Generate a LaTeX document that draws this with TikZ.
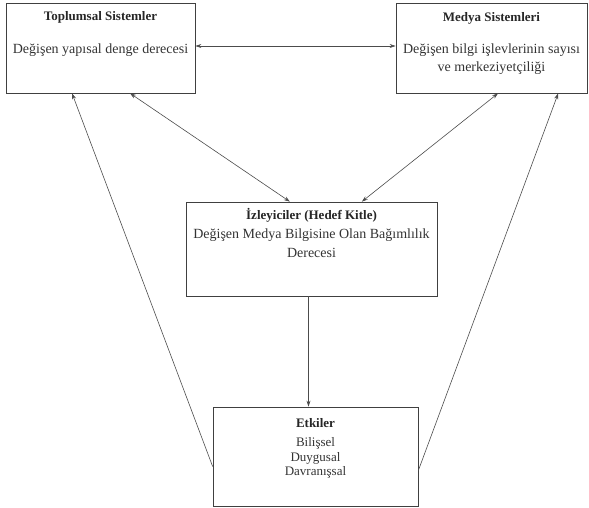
\documentclass[tikz,border=0pt]{standalone}
\usepackage{fontspec}
\setmainfont{Liberation Serif}
\usetikzlibrary{arrows.meta,calc}
\begin{document}
\begin{tikzpicture}[x=1pt,y=-1pt,
  box/.style={draw=black!75,line width=0.7pt,rectangle,inner sep=0pt},
  ttl/.style={font=\fontsize{13}{15}\selectfont\bfseries,text=black!85,inner sep=0pt},
  txt/.style={font=\fontsize{14}{16}\selectfont,text=black!80,inner sep=0pt},
  lst/.style={font=\fontsize{13}{15}\selectfont,text=black!80,inner sep=0pt},
  conn/.style={draw=black!70,line width=0.6pt},
  tip/.style={-{Stealth[length=6pt,width=4pt]}},
  dtip/.style={{Stealth[length=6pt,width=4pt]}-{Stealth[length=6pt,width=4pt]}}]
\useasboundingbox (0,0) rectangle (589,507);
% boxes
\node[box,minimum width=189pt,minimum height=90pt] (T) at (100.5,48) {};
\node[box,minimum width=191pt,minimum height=90pt] (M) at (491.5,48) {};
\node[box,minimum width=251pt,minimum height=94pt] (I) at (311.5,249) {};
\node[box,minimum width=205pt,minimum height=99pt] (E) at (315.5,456.5) {};
% texts
\node[ttl] (t1) at (100.5,17) {Toplumsal Sistemler};
\node[txt] (t2) at (100.5,50) {Değişen yapısal denge derecesi};
\node[ttl] (m1) at (491.5,18) {Medya Sistemleri};
\node[txt] (m2) at (491.5,50) {Değişen bilgi işlevlerinin sayısı};
\node[txt] (m3) at (491.5,68) {ve merkeziyetçiliği};
\node[ttl] (i1) at (311.5,215) {İzleyiciler (Hedef Kitle)};
\node[txt] (i2) at (311.5,235) {Değişen Medya Bilgisine Olan Bağımlılık};
\node[txt] (i3) at (311.5,253) {Derecesi};
\node[ttl] (e1) at (315.5,423) {Etkiler};
\node[lst] (e2) at (315.5,443) {Bilişsel};
\node[lst] (e3) at (315.5,458) {Duygusal};
\node[lst] (e4) at (315.5,472.5) {Davranışsal};
% connectors
\draw[conn,dtip] ([yshift=2pt]T.east) -- ([yshift=2pt]M.west);
\draw[conn,dtip] ($(T.south west)!0.656!(T.south east)$) -- ($(I.north west)!0.414!(I.north east)$);
\draw[conn,dtip] ($(M.south west)!0.534!(M.south east)$) -- ($(I.north west)!0.70!(I.north east)$);
\draw[conn,tip] ($(E.north west)!0.6!(E.south west)$) -- ($(T.south west)!0.35!(T.south east)$);
\draw[conn,tip] ($(E.north east)!0.64!(E.south east)$) -- ($(M.south west)!0.848!(M.south east)$);
\draw[conn,tip] ([xshift=-3pt]I.south) -- ([xshift=-3pt]I.south |- E.north);
\end{tikzpicture}
\end{document}
